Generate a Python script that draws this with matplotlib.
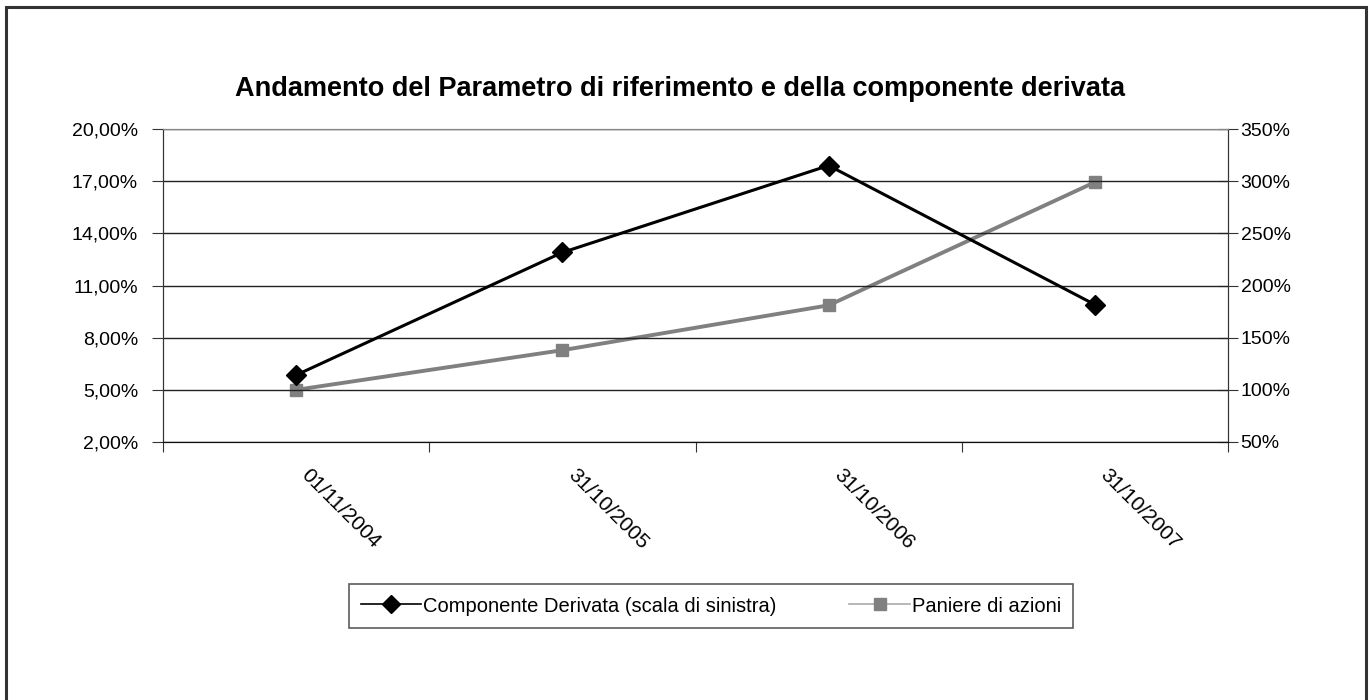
import matplotlib.pyplot as plt
from matplotlib.lines import Line2D
from matplotlib.patches import Rectangle
from matplotlib.ticker import FuncFormatter
from matplotlib.transforms import ScaledTranslation

plt.rcParams["font.family"] = ["Liberation Sans", "DejaVu Sans"]

dates = ["01/11/2004", "31/10/2005", "31/10/2006", "31/10/2007"]
derivata = [5.85, 12.9, 17.9, 9.9]
paniere = [100, 138, 181, 299]
left_ticks = [2, 5, 8, 11, 14, 17, 20]
right_ticks = [50, 100, 150, 200, 250, 300, 350]

fig = plt.figure(figsize=(13.7, 7), dpi=100)
fig.patches.append(Rectangle((6 / 1370, -0.05), 1360 / 1370, 1.04, transform=fig.transFigure,
                             fill=False, edgecolor="#333333", linewidth=2.2))

ax = fig.add_axes([163 / 1370, 1 - 442 / 700, 1065 / 1370, 313 / 700])
x = range(len(dates))

ax.plot(x, derivata, color="black", linewidth=2.2, marker="D", markersize=10, zorder=4)
ax.set_xlim(-0.5, len(dates) - 0.5)
ax.set_ylim(left_ticks[0], left_ticks[-1])
ax.set_yticks(left_ticks)
ax.yaxis.set_major_formatter(FuncFormatter(lambda v, p: f"{v:.2f}%".replace(".", ",")))
ax.grid(axis="y", color="#222222", linewidth=1)
ax.set_axisbelow(True)

ax.set_xticks([i - 0.5 for i in range(len(dates) + 1)])
ax.set_xticklabels([])
ax.set_xticks(list(x), minor=True)
ax.set_xticklabels(dates, minor=True, rotation=-45, ha="left", va="top",
                   rotation_mode="anchor", fontsize=15)
ax.tick_params(axis="x", which="minor", length=0, pad=20)
ax.tick_params(axis="x", which="major", length=7, color="#333333")
ax.tick_params(axis="y", labelsize=14, length=8, pad=10, color="#333333")

shift = ScaledTranslation(15 / 100, 4 / 100, fig.dpi_scale_trans)
for lbl in ax.get_xticklabels(minor=True):
    lbl.set_transform(lbl.get_transform() + shift)

ax2 = ax.twinx()
ax2.plot(x, paniere, color="#808080", linewidth=2.8, marker="s", markersize=9, zorder=3)
ax2.set_ylim(right_ticks[0], right_ticks[-1])
ax2.set_yticks(right_ticks)
ax2.yaxis.set_major_formatter(FuncFormatter(lambda v, p: f"{v:.0f}%"))
ax2.tick_params(axis="y", labelsize=14, direction="inout", length=14, pad=2, color="#333333")

for a in (ax, ax2):
    a.spines["top"].set_color("#888888")
    a.spines["left"].set_color("#333333")
    a.spines["right"].set_color("#333333")
    a.spines["bottom"].set_color("#111111")

ax.set_zorder(ax2.get_zorder() + 1)
ax.patch.set_visible(False)
ax2.patch.set_facecolor("#f8f8f8")

fig.text(0.496, 1 - 89 / 700, "Andamento del Parametro di riferimento e della componente derivata",
         ha="center", va="center", fontsize=19.5, fontweight="bold")

handles = [
    Line2D([], [], color="black", linewidth=1.2, marker="D", markersize=9),
    Line2D([], [], color="#aaaaaa", linewidth=1.2, marker="s", markersize=9,
           markerfacecolor="#808080", markeredgecolor="#808080"),
]
labels = ["Componente Derivata (scala di sinistra)", "Paniere di azioni"]
leg = fig.legend(handles, labels, loc="center", bbox_to_anchor=(711 / 1370, 1 - 606 / 700),
                 ncol=2, fontsize=14.5, frameon=True, fancybox=False, edgecolor="#333333",
                 columnspacing=3.6, handlelength=3.0, handletextpad=0.1, borderpad=0.6,
                 borderaxespad=0)
leg.get_frame().set_linewidth(1.2)

fig.savefig("out.png", dpi=100)
